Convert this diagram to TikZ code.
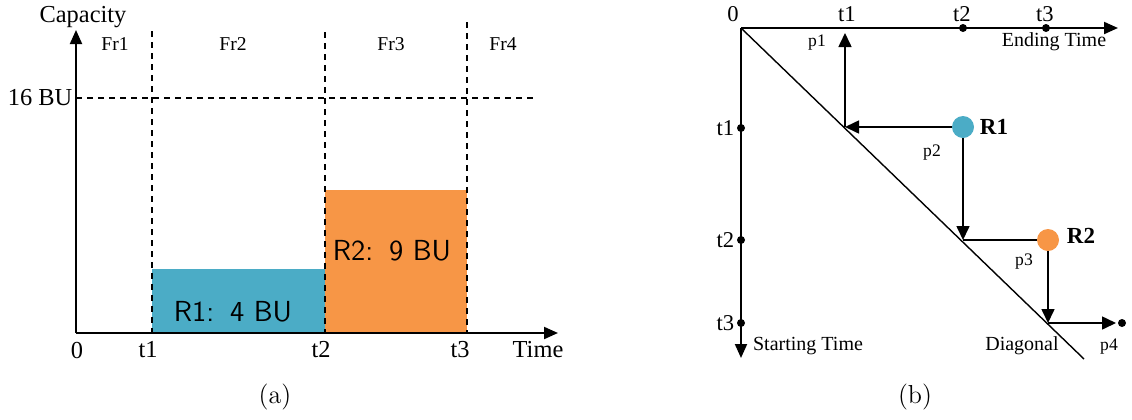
\documentclass[tikz,border=0pt]{standalone}
\usepackage{fontspec}
\newfontfamily\tnr{Liberation Serif}
\usetikzlibrary{arrows.meta,positioning}
\definecolor{resblue}{RGB}{75,172,198}
\definecolor{resorange}{RGB}{247,150,70}
\tikzset{
  axisline/.style={line width=1pt,-{Triangle[length=7pt,width=6pt]}},
  pathline/.style={line width=0.8pt,-{Triangle[length=7pt,width=6.5pt]}},
  frameline/.style={line width=0.6pt,dash pattern=on 3pt off 2.5pt},
  biglbl/.style={font=\tnr\fontsize{12.2}{14}\selectfont,inner sep=0pt},
  frlbl/.style={font=\tnr\fontsize{9.8}{11}\selectfont,inner sep=0pt},
  tlbl/.style={font=\tnr\fontsize{11.3}{13}\selectfont,inner sep=0pt},
  axlbl/.style={font=\tnr\fontsize{10}{12}\selectfont,inner sep=0pt},
  plbl/.style={font=\tnr\fontsize{8.8}{10}\selectfont,inner sep=0pt},
  reqlbl/.style={font=\tnr\bfseries\fontsize{11.5}{13}\selectfont,inner sep=0pt},
  boxlbl/.style={font=\sffamily\fontsize{14.5}{16}\selectfont,inner sep=0pt},
  caplbl/.style={font=\fontsize{13}{15}\selectfont,inner sep=0pt},
  req/.style={circle,fill=#1,minimum size=11pt,inner sep=0pt},
  dot/.style={circle,fill=black,minimum size=4pt,inner sep=0pt}
}
\begin{document}
\begin{tikzpicture}[x=0.5pt,y=-0.5pt]
  \useasboundingbox (0,0) rectangle (1132,419);

  % (a) capacity over time
  \coordinate (O) at (76,333);
  \coordinate (capTop) at (76,30);
  \coordinate (timeEnd) at (558,333);

  % the two requests
  \fill[resblue] (152,269) rectangle (325,333);
  \fill[resorange] (325,190) rectangle (467,333);
  \node[boxlbl] (r1box) at (233,312) {R1:\hspace{0.55em}4 BU};
  \node[boxlbl] (r2box) at (392,251) {R2:\hspace{0.55em}9 BU};

  % frame borders and capacity limit
  \draw[frameline] (152,31) -- (152,333);
  \draw[frameline] (325,32) -- (325,333);
  \draw[frameline] (467,22) -- (467,333);
  \draw[frameline] (76,98) -- (535,98);
  \node[frlbl] (fr1) at (115,44) {Fr1};
  \node[frlbl] (fr2) at (233,44) {Fr2};
  \node[frlbl] (fr3) at (391,44) {Fr3};
  \node[frlbl] (fr4) at (503,44) {Fr4};

  % axes
  \draw[axisline] (O) -- (capTop);
  \draw[axisline] (O) -- (timeEnd);
  \node[biglbl] (cap) at (83,17) {Capacity};
  \node[biglbl] (lim) at (40,98) {16 BU};
  \node[biglbl] (zero) at (77,350) {0};
  \node[biglbl] (ta1) at (148,350) {t1};
  \node[biglbl] (ta2) at (321,350) {t2};
  \node[biglbl] (ta3) at (460,350) {t3};
  \node[biglbl] (time) at (538,350) {Time};
  \node[caplbl] (capa) at (275,397) {(a)};

  % (b) starting time vs ending time
  \coordinate (Q) at (741,28);
  \coordinate (endT) at (1118,28);
  \coordinate (startT) at (741,358);
  \coordinate (diagEnd) at (1084,359);
  \coordinate (d1) at (845,127);
  \coordinate (d2) at (963,240);
  \coordinate (d3) at (1048,323);
  \coordinate (p1end) at (845,33);
  \coordinate (p4end) at (1116,323);

  \draw[line width=0.7pt] (Q) -- (diagEnd);
  \draw[axisline] (Q) -- (endT);
  \draw[axisline] (Q) -- (startT);

  \node[dot] (e2) at (963,28) {};
  \node[dot] (e3) at (1046,28) {};
  \node[dot] (s1) at (741,128) {};
  \node[dot] (s2) at (741,240) {};
  \node[dot] (s3) at (741,323) {};
  \node[dot] (p4dot) at (1122,323) {};

  \node[tlbl] (zerob) at (733,14) {0};
  \node[tlbl] (te1) at (847,14) {t1};
  \node[tlbl] (te2) at (962,14) {t2};
  \node[tlbl] (te3) at (1045,14) {t3};
  \node[tlbl,left=1pt of s1] (ts1) {t1};
  \node[tlbl,left=1pt of s2] (ts2) {t2};
  \node[tlbl,left=1pt of s3] (ts3) {t3};
  \node[axlbl] (ending) at (1054,42) {Ending Time};
  \node[axlbl] (starting) at (808,346) {Starting Time};
  \node[axlbl] (diag) at (1022,346) {Diagonal};

  % requests and their paths
  \node[req=resblue] (R1) at (963,127) {};
  \node[req=resorange] (R2) at (1048,240) {};
  \node[reqlbl] (R1lbl) at (994,127) {R1};
  \node[reqlbl] (R2lbl) at (1081,236) {R2};

  \draw[pathline] (R1) -- (d1);
  \draw[pathline] (d1) -- (p1end);
  \draw[pathline] (R1) -- (d2);
  \draw[line width=0.8pt] (d2) -- (R2);
  \draw[pathline] (R2) -- (d3);
  \draw[pathline] (d3) -- (p4end);

  \node[plbl] (p1) at (817,43) {p1};
  \node[plbl] (p2) at (932,153) {p2};
  \node[plbl] (p3) at (1024,262) {p3};
  \node[plbl] (p4) at (1109,347) {p4};
  \node[caplbl] (capb) at (915,397) {(b)};
\end{tikzpicture}
\end{document}
